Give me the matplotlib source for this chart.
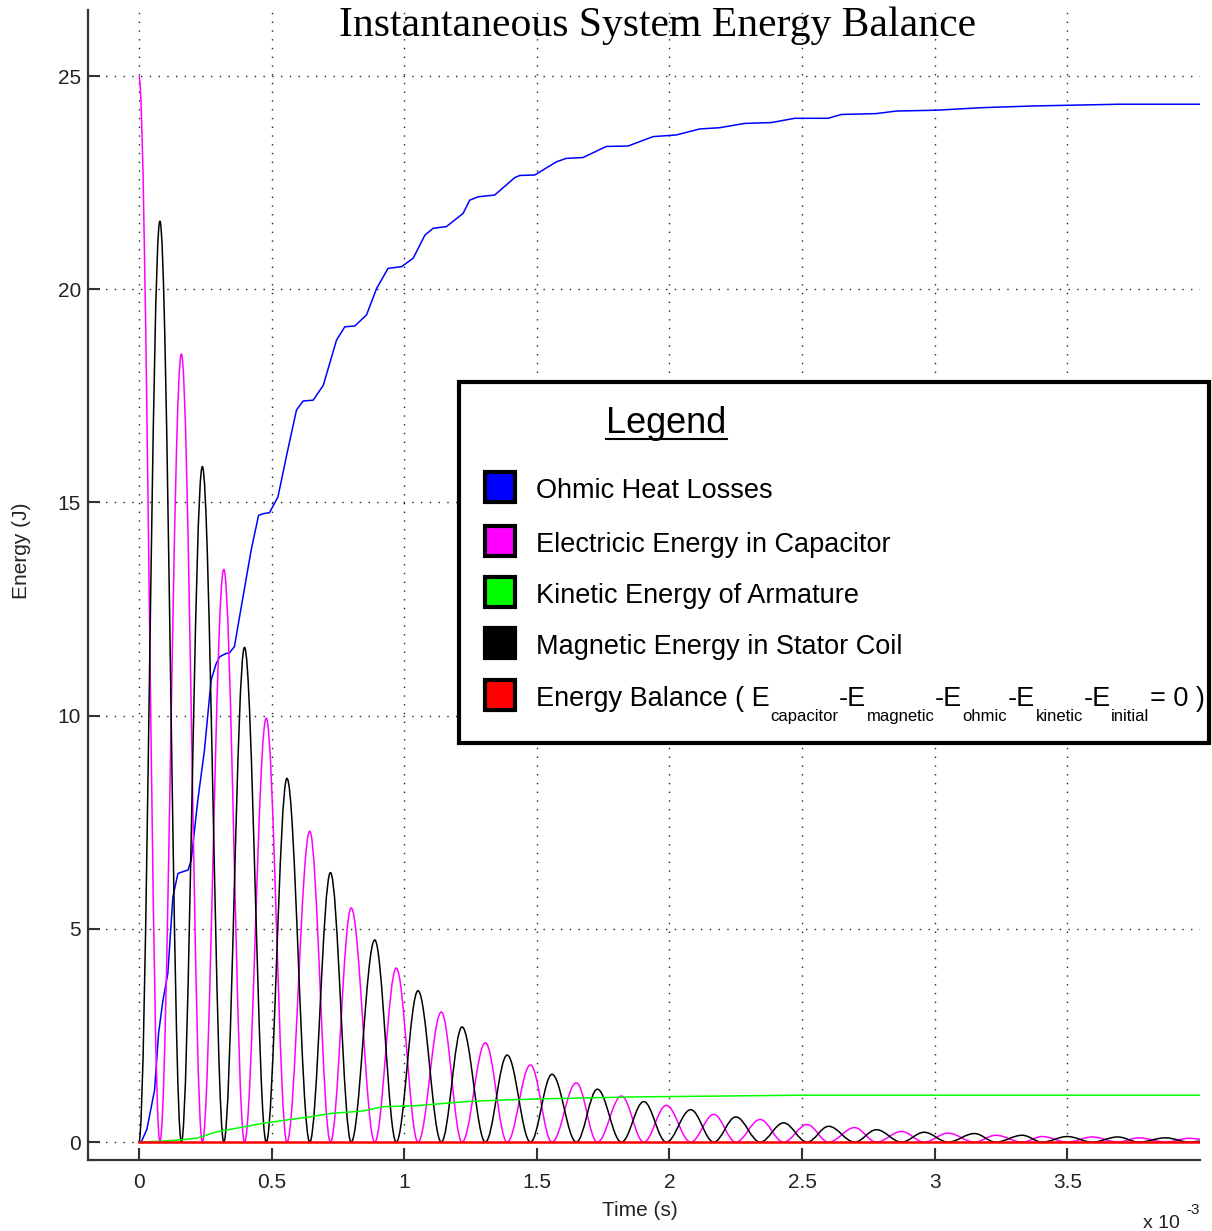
import numpy as np
import matplotlib
matplotlib.use("Agg")
import matplotlib.pyplot as plt
from matplotlib.path import Path
from matplotlib.patches import PathPatch, Rectangle
from matplotlib.ticker import FuncFormatter
from matplotlib.lines import Line2D

# ---- data (time in ms, energy in J) ----
# capacitor energy peaks
cap_peak_t = [0.0, 0.16, 0.32, 0.48, 0.644, 0.80, 0.97, 1.14, 1.306, 1.476, 1.649, 1.819,
              1.988, 2.167, 2.342, 2.519, 2.698, 2.875, 3.05, 3.23, 3.405, 3.594, 3.77, 3.96]
cap_peak_e = [25.0, 18.48, 13.43, 9.94, 7.29, 5.49, 4.08, 3.05, 2.33, 1.81, 1.39, 1.08,
              0.86, 0.65, 0.53, 0.41, 0.34, 0.25, 0.21, 0.16, 0.13, 0.12, 0.10, 0.09]
# stator coil magnetic energy peaks
mag_peak_t = [0.079, 0.239, 0.398, 0.558, 0.722, 0.889, 1.052, 1.218, 1.388, 1.557, 1.728,
              1.903, 2.08, 2.25, 2.43, 2.60, 2.78, 2.96, 3.15, 3.33, 3.50, 3.69, 3.87]
mag_peak_e = [21.6, 15.84, 11.6, 8.53, 6.32, 4.74, 3.55, 2.70, 2.04, 1.59, 1.24,
              0.95, 0.76, 0.59, 0.45, 0.37, 0.29, 0.23, 0.20, 0.16, 0.13, 0.12, 0.10]
# values at the end of the record
end_t = 4.0
cap_end_e = 0.07
mag_end_e = 0.02

# ohmic heat losses
ohm_t = [0, 0.01, 0.03, 0.059, 0.074, 0.09, 0.109, 0.128, 0.147, 0.165, 0.185, 0.197, 0.222,
         0.247, 0.272, 0.29, 0.304, 0.325, 0.342, 0.36, 0.386, 0.423, 0.451, 0.47, 0.492,
         0.524, 0.561, 0.594, 0.619, 0.657, 0.695, 0.745, 0.776, 0.814, 0.858, 0.896, 0.939,
         0.99, 1.034, 1.078, 1.109, 1.159, 1.222, 1.247, 1.279, 1.341, 1.417, 1.436, 1.492,
         1.574, 1.611, 1.674, 1.762, 1.844, 1.938, 2.026, 2.114, 2.19, 2.283, 2.384, 2.472,
         2.597, 2.648, 2.779, 2.855, 3.006, 3.181, 3.376, 3.696, 4.0]
ohm_e = [0, 0.02, 0.3, 1.22, 2.55, 3.3, 3.96, 5.75, 6.30, 6.34, 6.38, 6.61, 8.02,
         9.19, 10.83, 11.2, 11.38, 11.45, 11.48, 11.62, 12.56, 13.88, 14.7, 14.74, 14.76,
         15.13, 16.23, 17.17, 17.38, 17.40, 17.75, 18.81, 19.12, 19.14, 19.4, 20.02, 20.49,
         20.53, 20.73, 21.27, 21.43, 21.47, 21.78, 22.09, 22.17, 22.21, 22.62, 22.67, 22.68,
         22.99, 23.07, 23.09, 23.35, 23.36, 23.58, 23.62, 23.76, 23.79, 23.89, 23.91, 24.01,
         24.01, 24.1, 24.12, 24.18, 24.2, 24.26, 24.3, 24.34, 24.34]

# armature kinetic energy
kin_t = [0, 0.079, 0.154, 0.217, 0.293, 0.38, 0.468, 0.569, 0.644, 0.72, 0.845, 0.92,
         1.034, 1.096, 1.235, 1.385, 1.561, 1.875, 2.19, 2.5, 4.0]
kin_e = [0, 0.02, 0.05, 0.09, 0.24, 0.34, 0.44, 0.53, 0.59, 0.67, 0.73, 0.83,
         0.85, 0.88, 0.95, 0.99, 1.02, 1.06, 1.08, 1.10, 1.10]

# energy balance residual
bal_t = [0, 4.0]
bal_e = [0, 0]

legend_labels = ["Ohmic Heat Losses", "Electricic Energy in Capacitor",
                 "Kinetic Energy of Armature", "Magnetic Energy in Stator Coil"]
legend_colors = ["#0000ff", "#ff00ff", "#00ff00", "#000000", "#ff0000"]
balance_parts = [("Energy Balance ( E", False), ("capacitor", True), ("-E", False),
                 ("magnetic", True), ("-E", False), ("ohmic", True), ("-E", False),
                 ("kinetic", True), ("-E", False), ("initial", True), ("= 0 )", False)]

W, H = 1212, 1231
SANS = ["Liberation Sans"]


def smooth_path(t_nodes, e_nodes):
    # cubic bezier between successive extrema, flat tangents at each node
    verts = [(t_nodes[0], e_nodes[0])]
    codes = [Path.MOVETO]
    for i in range(1, len(t_nodes)):
        t0, e0 = t_nodes[i - 1], e_nodes[i - 1]
        t1, e1 = t_nodes[i], e_nodes[i]
        dt = t1 - t0
        verts += [(t0 + 0.363 * dt, e0), (t1 - 0.363 * dt, e1), (t1, e1)]
        codes += [Path.CURVE4] * 3
    return Path(verts, codes)


def merge_nodes(peak_t, peak_e, zero_t, last_t, last_e):
    nodes = [(t, e) for t, e in zip(peak_t, peak_e)] + [(t, 0.0) for t in zero_t]
    nodes = sorted(nodes)
    nodes.append((last_t, last_e))
    t = [n[0] * 1e-3 for n in nodes]
    e = [n[1] for n in nodes]
    return t, e


def fx(px):
    return px / W


def fy(py):
    return 1 - py / H


fig = plt.figure(figsize=(W / 100, H / 100), dpi=100)
ax = fig.add_axes([fx(88), fy(1160), (1200 - 88) / W, (1160 - 10) / H])

ax.set_xlim(-0.192e-3, 4.0e-3)
ax.set_ylim(-0.42, 26.55)
ax.set_xticks(np.arange(0, 3.6e-3, 0.5e-3))
ax.set_yticks([0, 5, 10, 15, 20, 25])
ax.xaxis.set_major_formatter(FuncFormatter(lambda v, _: f"{v * 1e3:g}"))

for s in ["top", "right"]:
    ax.spines[s].set_visible(False)
for s in ["left", "bottom"]:
    ax.spines[s].set_color("#333333")
    ax.spines[s].set_linewidth(1.6)

ax.tick_params(direction="in", length=8.5, width=1.5, color="#333333",
               labelsize=15, labelcolor="#222222")
ax.tick_params(axis="x", pad=9)
ax.tick_params(axis="y", pad=5)
for lab in ax.get_xticklabels() + ax.get_yticklabels():
    lab.set_family(SANS)

ax.grid(True, color="#222222", linestyle=(0, (1, 5.3)), linewidth=1.0)

# curves
t_ohm = np.array(ohm_t) * 1e-3
t_kin = np.array(kin_t) * 1e-3
ax.plot(t_ohm, ohm_e, color="#0000ff", lw=1.1, zorder=3)

cap_t, cap_e = merge_nodes(cap_peak_t, cap_peak_e, mag_peak_t, end_t, cap_end_e)
mag_t, mag_e = merge_nodes([0.0] + mag_peak_t, [0.0] + mag_peak_e, cap_peak_t[1:], end_t, mag_end_e)

ax.add_patch(PathPatch(smooth_path(cap_t, cap_e), fill=False, edgecolor="#ff00ff", lw=1.1, zorder=3))
ax.add_patch(PathPatch(smooth_path(mag_t, mag_e), fill=False, edgecolor="#000000", lw=1.1, zorder=3))
ax.plot(t_kin, kin_e, color="#00ff00", lw=1.1, zorder=4)
ax.plot(np.array(bal_t) * 1e-3, bal_e, color="#ff0000", lw=1.8, zorder=5)

# title and axis labels
fig.text(fx(658), fy(26), "Instantaneous System Energy Balance", family=["Liberation Serif"],
         fontsize=30, ha="center", va="center", color="black")
fig.text(fx(640), fy(1210), "Time (s)", family=SANS, fontsize=15, ha="center", va="center",
         color="#222222")
fig.text(fx(22), fy(551), "Energy (J)", family=SANS, fontsize=15, ha="center", va="center",
         rotation=90, color="#222222")
fig.text(fx(1143), fy(1228), "x 10", family=SANS, fontsize=14, ha="left", va="baseline",
         color="#222222")
fig.text(fx(1186), fy(1214), "-3", family=SANS, fontsize=11, ha="left", va="baseline",
         color="#222222")

# legend box
fig.add_artist(Rectangle((fx(459), fy(743)), (1209 - 459) / W, (743 - 382) / H,
                         transform=fig.transFigure, facecolor="white", edgecolor="black",
                         lw=3.0, zorder=10))
fig.text(fx(666), fy(433), "Legend", family=SANS, fontsize=26, ha="center", va="baseline",
         zorder=11)
fig.add_artist(Line2D([fx(606), fx(727)], [fy(439), fy(439)], transform=fig.transFigure,
                      color="black", lw=1.5, zorder=11))

row_y = [487, 541, 592, 643, 695]
for yc, col in zip(row_y, legend_colors):
    fig.add_artist(Rectangle((fx(485), fy(yc + 15)), 30 / W, 30 / H, transform=fig.transFigure,
                             facecolor=col, edgecolor="black", lw=3.0, zorder=11))
for yc, lab in zip(row_y, legend_labels):
    fig.text(fx(536), fy(yc + 11), lab, family=SANS, fontsize=19.5, ha="left", va="baseline",
             zorder=11)

# energy balance entry: pieces laid out one after another, subscripts dropped
renderer = fig.canvas.get_renderer()
base = row_y[4] + 11
x = 536
for txt, is_sub in balance_parts:
    py = base + 15 if is_sub else base
    fs = 12 if is_sub else 19.5
    t = fig.text(fx(x), fy(py), txt, family=SANS, fontsize=fs, ha="left", va="baseline",
                 zorder=11)
    x = t.get_window_extent(renderer).x1 + 0.5

fig.savefig("out.png", dpi=100)
